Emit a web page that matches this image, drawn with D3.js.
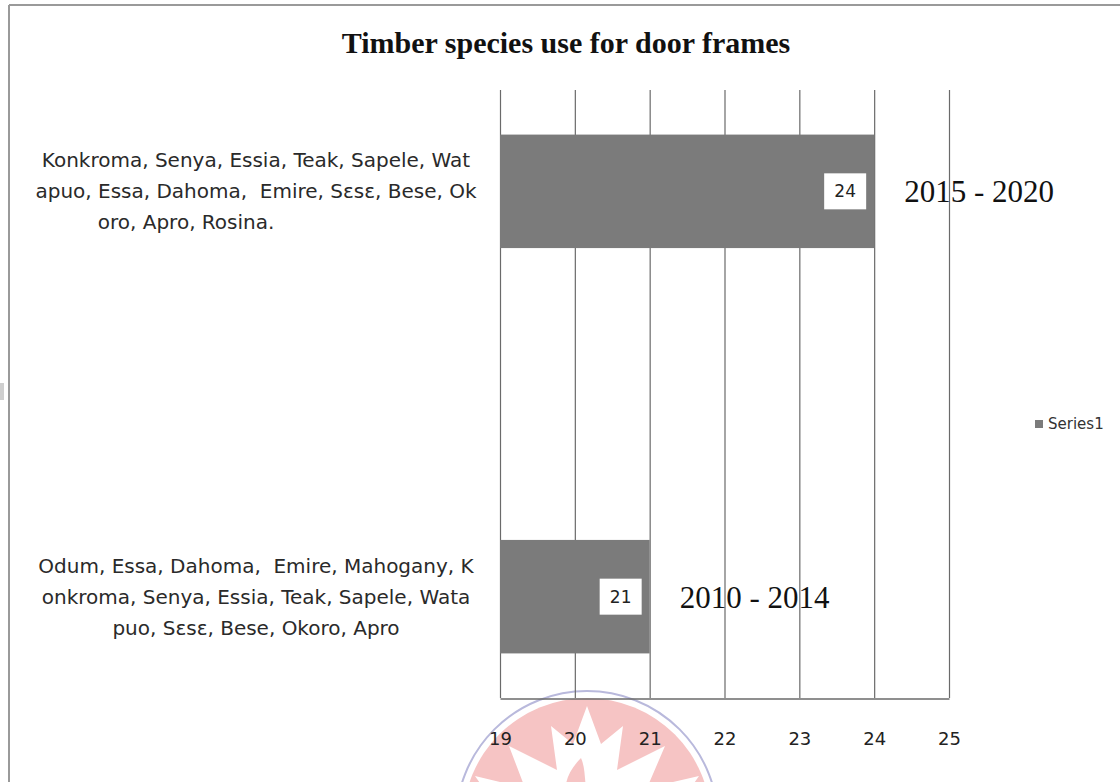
<!DOCTYPE html>
<html>
<head>
<meta charset="utf-8">
<script src="https://cdn.jsdelivr.net/npm/d3@7"></script>
<style>
  body { margin: 0; background: #fff; }
  svg text { white-space: pre; }
</style>
</head>
<body>
<div id="chart"></div>
<script>
// category labels, already broken into lines the way the picture wraps them
const categoryLines = [
    ["Konkroma, Senya, Essia, Teak, Sapele, Wat",
     "apuo, Essa, Dahoma,  Emire, S\u025bs\u025b, Bese, Ok",
     "oro, Apro, Rosina.                      "],
    ["Odum, Essa, Dahoma,  Emire, Mahogany, K",
     "onkroma, Senya, Essia, Teak, Sapele, Wata",
     "puo, S\u025bs\u025b, Bese, Okoro, Apro"]
];
const periods = ["2015 - 2020", "2010 - 2014"];
const values = [24, 21];
const tickValues = [19, 20, 21, 22, 23, 24, 25];
const seriesName = "Series1";

const width = 1120, height = 782;
const plot = { left: 500, right: 949, top: 90, bottom: 698 };

const svg = d3.select("#chart")
    .append("svg")
    .attr("width", width)
    .attr("height", height);

// faint watermark emblem at the bottom
const wm = svg.append("g").attr("transform", "translate(587, 822)");
wm.append("circle").attr("r", 131).attr("fill", "none")
    .attr("stroke", "#b9b9dc").attr("stroke-width", 2);
wm.append("circle").attr("r", 124).attr("fill", "#f6c4c4");
wm.append("path")
    .attr("d", "M0,-116 L14,-78 L36,-96 L30,-52 L78,-76 L60,-34 L112,-46 L80,0 L-80,0 L-112,-46 L-62,-34 L-78,-76 L-30,-52 L-36,-96 L-14,-78 Z")
    .attr("fill", "#fff");
wm.append("path")
    .attr("d", "M-6,-64 C-36,-34 -18,-4 14,-14 C-8,-26 2,-46 -6,-64 Z")
    .attr("fill", "#f6c4c4");

// outer frame (only top and left edges are visible in the crop)
svg.append("line").attr("x1", 9).attr("x2", width).attr("y1", 5).attr("y2", 5)
    .attr("stroke", "#9a9a9a").attr("stroke-width", 2);
svg.append("line").attr("x1", 9).attr("x2", 9).attr("y1", 5).attr("y2", height)
    .attr("stroke", "#9a9a9a").attr("stroke-width", 2);
svg.append("rect").attr("x", 0).attr("y", 383).attr("width", 4).attr("height", 17)
    .attr("fill", "#cfcfcf");

// title
svg.append("text")
    .attr("x", 566)
    .attr("y", 53)
    .attr("text-anchor", "middle")
    .style("font-family", "'Liberation Serif', serif")
    .style("font-weight", "bold")
    .style("font-size", "30px")
    .attr("fill", "#111")
    .text("Timber species use for door frames");

// scales
const xScale = d3.scaleLinear()
    .domain([tickValues[0], tickValues[tickValues.length - 1]])
    .range([plot.left, plot.right]);

const yScale = d3.scaleBand()
    .domain(periods)
    .range([plot.top, plot.bottom])
    .paddingInner(0.72)
    .paddingOuter(0.11);

// gridlines
svg.append("g")
    .selectAll("line")
    .data(tickValues)
    .enter()
    .append("line")
    .attr("x1", d => xScale(d) + 0.5)
    .attr("x2", d => xScale(d) + 0.5)
    .attr("y1", plot.top)
    .attr("y2", plot.bottom)
    .attr("stroke", "#6a6a6a")
    .attr("stroke-width", 1.2);

// bottom axis
const xAxis = svg.append("g")
    .attr("transform", `translate(0, ${plot.bottom + 0.5})`)
    .call(d3.axisBottom(xScale).tickValues(tickValues).tickFormat(d3.format("d"))
        .tickSize(0).tickPadding(34));
xAxis.select(".domain").attr("stroke", "#6a6a6a").attr("stroke-width", 1.5);
xAxis.selectAll("text")
    .style("font-family", "'DejaVu Sans', sans-serif")
    .style("font-size", "18px")
    .attr("fill", "#222");

// bars
svg.append("g")
    .selectAll("rect")
    .data(values)
    .enter()
    .append("rect")
    .attr("x", xScale(tickValues[0]))
    .attr("y", (d, i) => yScale(periods[i]))
    .attr("width", d => xScale(d) - xScale(tickValues[0]))
    .attr("height", yScale.bandwidth())
    .attr("fill", "#7b7b7b");

// data labels in white boxes
const labels = svg.append("g")
    .selectAll("g")
    .data(values)
    .enter()
    .append("g")
    .attr("transform", (d, i) =>
        `translate(${xScale(d) - 29}, ${yScale(periods[i]) + yScale.bandwidth() / 2})`);
labels.append("rect")
    .attr("x", -21).attr("y", -18).attr("width", 42).attr("height", 36)
    .attr("fill", "#fff");
labels.append("text")
    .attr("text-anchor", "middle")
    .attr("dy", "0.35em")
    .style("font-family", "'DejaVu Sans', sans-serif")
    .style("font-size", "17px")
    .attr("fill", "#222")
    .text(d => d);

// period annotations
svg.append("g")
    .selectAll("text")
    .data(values)
    .enter()
    .append("text")
    .attr("x", d => xScale(d) + 30)
    .attr("y", (d, i) => yScale(periods[i]) + yScale.bandwidth() / 2)
    .attr("dy", "0.35em")
    .style("font-family", "'Liberation Serif', serif")
    .style("font-size", "31px")
    .attr("fill", "#111")
    .text((d, i) => periods[i]);

// category labels on the left
const cat = svg.append("g")
    .selectAll("text")
    .data(categoryLines)
    .enter()
    .append("text")
    .attr("text-anchor", "middle")
    .style("font-family", "'DejaVu Sans', sans-serif")
    .style("font-size", "20px")
    .attr("fill", "#2a2a2a");
cat.each(function (lines, i) {
    const cy = yScale(periods[i]) + yScale.bandwidth() / 2;
    d3.select(this).selectAll("tspan")
        .data(lines)
        .enter()
        .append("tspan")
        .attr("x", 256)
        .attr("y", (l, j) => cy + (j - 1) * 31)
        .attr("dy", "0.35em")
        .text(l => l);
});

// legend
const legend = svg.append("g").attr("transform", "translate(1035, 424)");
legend.append("rect")
    .attr("x", 0).attr("y", -4).attr("width", 8).attr("height", 8)
    .attr("fill", "#7b7b7b");
legend.append("text")
    .attr("x", 13)
    .attr("dy", "0.35em")
    .style("font-family", "'DejaVu Sans', sans-serif")
    .style("font-size", "15px")
    .attr("fill", "#333")
    .text(seriesName);
</script>
</body>
</html>
